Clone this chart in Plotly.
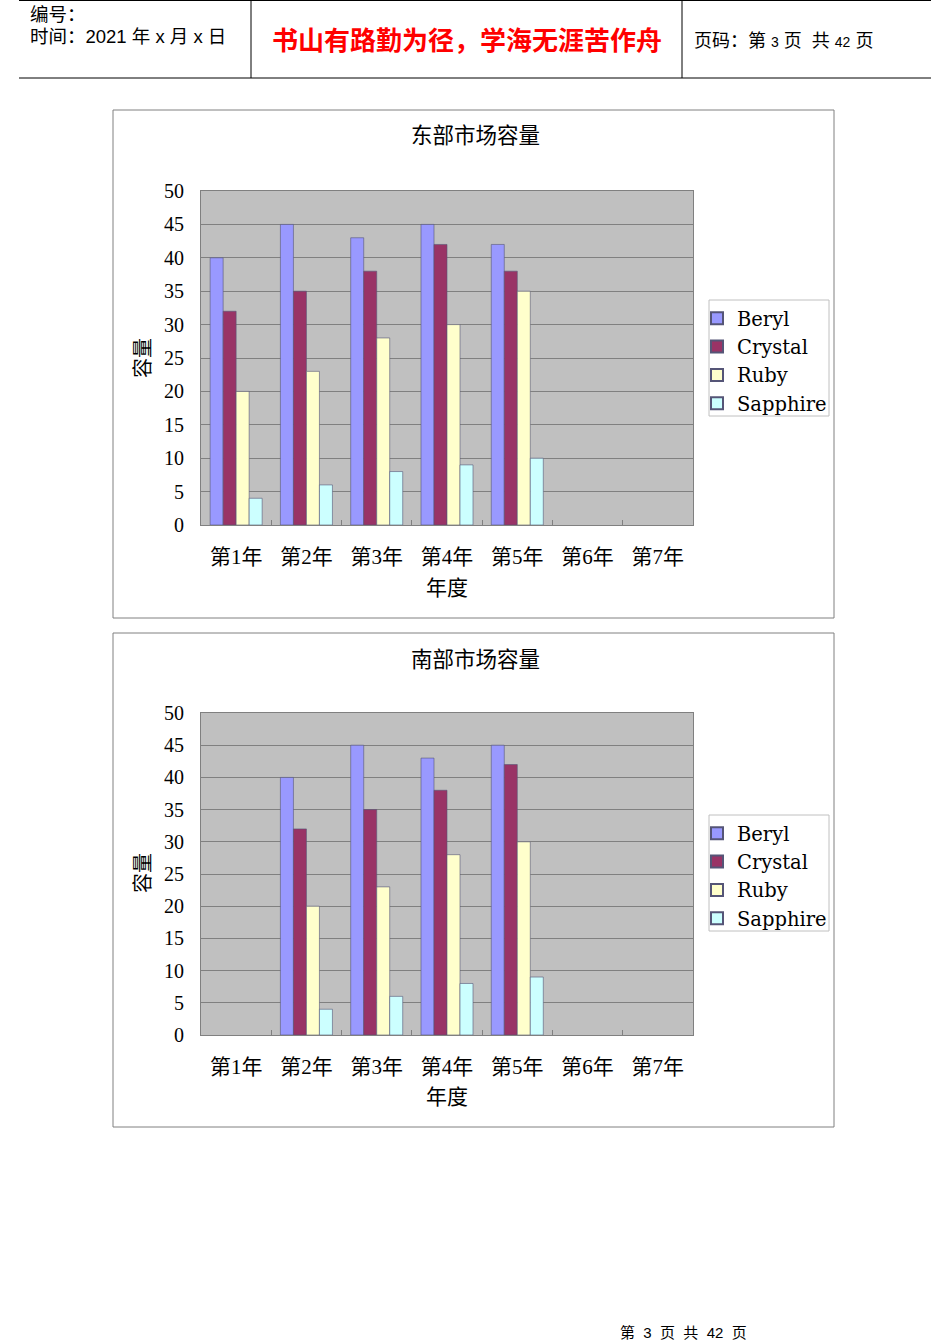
import plotly.graph_objects as go

# 数据
years = ["第1年", "第2年", "第3年", "第4年", "第5年", "第6年", "第7年"]
series = ["Beryl", "Crystal", "Ruby", "Sapphire"]
colors = ["#9999FF", "#993366", "#FFFFCC", "#CCFFFF"]

east_beryl = [40, 45, 43, 45, 42, None, None]
east_crystal = [32, 35, 38, 42, 38, None, None]
east_ruby = [20, 23, 28, 30, 35, None, None]
east_sapphire = [4, 6, 8, 9, 10, None, None]

south_beryl = [None, 40, 45, 43, 45, None, None]
south_crystal = [None, 32, 35, 38, 42, None, None]
south_ruby = [None, 20, 23, 28, 30, None, None]
south_sapphire = [None, 4, 6, 8, 9, None, None]

east = [east_beryl, east_crystal, east_ruby, east_sapphire]
south = [south_beryl, south_crystal, south_ruby, south_sapphire]

W, H = 950, 1342
SERIF = "Liberation Serif, Noto Sans CJK SC"
LEGF = "DejaVu Serif, Noto Sans CJK SC"
SANS = "Liberation Sans, Noto Sans CJK SC"


def px(x):
    return x / W


def py(y):
    return 1 - y / H


fig = go.Figure()

for i, name in enumerate(series):
    fig.add_trace(go.Bar(x=years, y=east[i], name=name, marker=dict(color=colors[i], line=dict(color="#555577", width=0.6)),
                         xaxis="x", yaxis="y", legend="legend"))
    fig.add_trace(go.Bar(x=years, y=south[i], name=name, marker=dict(color=colors[i], line=dict(color="#555577", width=0.6)),
                         xaxis="x2", yaxis="y2", legend="legend2"))

xa = dict(type="category", categoryorder="array", categoryarray=years, range=[-0.5, 6.5],
          showline=True, linecolor="#808080", mirror=True, ticks="inside", tickson="boundaries",
          ticklen=5, tickcolor="#808080", ticklabelstandoff=13, automargin=False,
          tickfont=dict(family=SERIF, size=21, color="#000"), showgrid=False, fixedrange=True)
ya = dict(range=[0, 50], dtick=5, showline=True, linecolor="#808080", mirror=True,
          gridcolor="#808080", gridwidth=1, ticks="", ticklabelstandoff=12, automargin=False,
          tickfont=dict(family=SERIF, size=20, color="#000"), zeroline=False)

leg = dict(x=px(697), xanchor="left", yanchor="top", bgcolor="rgba(0,0,0,0)",
           borderwidth=0, font=dict(family=LEGF, size=19.5, color="#000"), itemsizing="constant",
           traceorder="normal")

fig.update_layout(
    width=W, height=H, margin=dict(l=0, r=0, t=0, b=0, pad=0, autoexpand=False),
    paper_bgcolor="white", plot_bgcolor="#C0C0C0",
    barmode="group", bargap=0.26, bargroupgap=0,
    xaxis=dict(xa, domain=[px(201), px(693)], anchor="y"),
    yaxis=dict(ya, domain=[py(525), py(191)], anchor="x"),
    xaxis2=dict(xa, domain=[px(201), px(693)], anchor="y2"),
    yaxis2=dict(ya, domain=[py(1035), py(713)], anchor="x2"),
    legend=dict(leg, y=py(299)),
    legend2=dict(leg, y=py(814)),
)

# 图表外框、图例框和页眉线
shapes = [
    dict(type="rect", xref="paper", yref="paper", x0=px(113), x1=px(834), y0=py(618), y1=py(110),
         line=dict(color="#808080", width=1)),
    dict(type="rect", xref="paper", yref="paper", x0=px(113), x1=px(834), y0=py(1127), y1=py(633),
         line=dict(color="#808080", width=1)),
    dict(type="rect", xref="paper", yref="paper", x0=px(709), x1=px(829), y0=py(416), y1=py(300),
         line=dict(color="#C0C0C0", width=1), fillcolor="white"),
    dict(type="rect", xref="paper", yref="paper", x0=px(709), x1=px(829), y0=py(931), y1=py(815),
         line=dict(color="#C0C0C0", width=1), fillcolor="white"),
    dict(type="line", xref="paper", yref="paper", x0=px(19), x1=px(931), y0=py(78), y1=py(78),
         line=dict(color="#000", width=1)),
    dict(type="line", xref="paper", yref="paper", x0=px(19), x1=px(931), y0=py(0.5), y1=py(0.5),
         line=dict(color="#000", width=1)),
    dict(type="line", xref="paper", yref="paper", x0=px(251), x1=px(251), y0=py(78), y1=py(0),
         line=dict(color="#000", width=1)),
    dict(type="line", xref="paper", yref="paper", x0=px(682), x1=px(682), y0=py(78), y1=py(0),
         line=dict(color="#000", width=1)),
]
fig.update_layout(shapes=shapes)


def note(text, x, y, size, family=SERIF, color="#000", angle=0, xanchor="center"):
    fig.add_annotation(text=text, x=px(x), y=py(y), xref="paper", yref="paper", showarrow=False,
                       xanchor=xanchor, yanchor="middle", textangle=angle,
                       font=dict(family=family, size=size, color=color))


# 页眉
note("编号：", 28, 14, 18.5, SANS, xanchor="left")
note("时间：2021 年 x 月 x 日", 28, 36, 18.5, SANS, xanchor="left")
note("<b>书山有路勤为径，学海无涯苦作舟</b>", 467, 41, 26, SANS, color="#FF0000")
note("页码：第 <span style='font-size:14px'>3</span> 页  共 <span style='font-size:14px'>42</span> 页",
     692, 41, 18, SANS, xanchor="left")

# 图表标题与坐标轴标题
note("东部市场容量", 475, 136, 21.5)
note("容量", 143, 358, 20, angle=-90)
note("年度", 447, 588, 21)
note("南部市场容量", 475, 660, 21.5)
note("容量", 143, 873, 20, angle=-90)
note("年度", 447, 1097, 21)

# 页脚
note("第  3  页  共  42  页", 683, 1332, 15, SANS)

fig.write_html("out.html", post_script="document.body.style.margin='0';",
               config={"displayModeBar": False})
